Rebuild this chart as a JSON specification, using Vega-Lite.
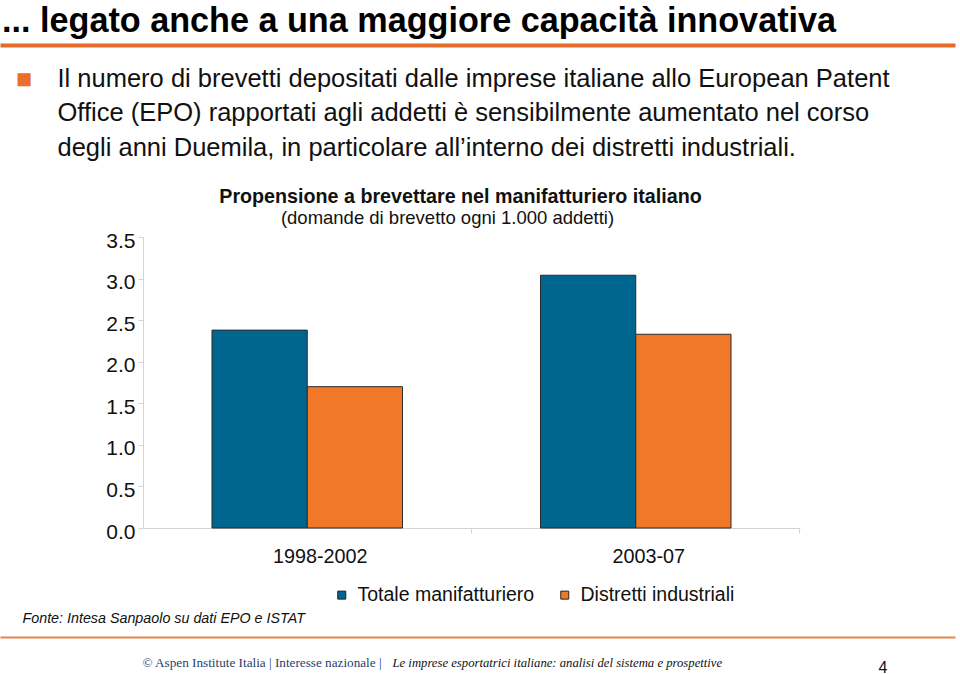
{
  "$schema": "https://vega.github.io/schema/vega-lite/v6.json",
  "width": 657,
  "height": 291,
  "autosize": {"type": "none"},
  "padding": {"left": 143, "top": 237, "right": 160, "bottom": 146},
  "background": "white",
  "title": {
    "text": "... legato anche a una maggiore capacità innovativa",
    "anchor": "start",
    "frame": "group",
    "dx": -141,
    "offset": 6,
    "fontSize": 34.2,
    "fontWeight": "bold",
    "font": "Liberation Sans",
    "color": "#000000"
  },
  "data": {
    "values": [
      {"periodo": "1998-2002", "serie": "Totale manifatturiero", "valore": 2.38},
      {"periodo": "1998-2002", "serie": "Distretti industriali", "valore": 1.70},
      {"periodo": "2003-07", "serie": "Totale manifatturiero", "valore": 3.04},
      {"periodo": "2003-07", "serie": "Distretti industriali", "valore": 2.33}
    ]
  },
  "resolve": {
    "scale": {"x": "independent", "y": "independent"},
    "axis": {"x": "independent", "y": "independent"}
  },
  "layer": [
    {
      "mark": {"type": "bar", "stroke": "#2b2b2b", "strokeWidth": 1},
      "encoding": {
        "x": {
          "field": "periodo",
          "type": "nominal",
          "scale": {"paddingInner": 0.42, "paddingOuter": 0.21},
          "axis": {
            "orient": "bottom",
            "labelAngle": 0,
            "labelFontSize": 19.8,
            "labelColor": "#111111",
            "labelPadding": 13,
            "labelOffset": 13,
            "domainColor": "#d4d4d4",
            "tickColor": "#d4d4d4",
            "tickSize": 5,
            "bandPosition": 1.362,
            "title": "Fonte: Intesa Sanpaolo su dati EPO e ISTAT",
            "titleFontStyle": "italic",
            "titleFontWeight": "normal",
            "titleFontSize": 14.3,
            "titleColor": "#111111",
            "titleAngle": 0,
            "titleAlign": "left",
            "titleBaseline": "alphabetic",
            "titleX": -121,
            "titleY": 94
          }
        },
        "xOffset": {
          "field": "serie",
          "type": "nominal",
          "sort": ["Totale manifatturiero", "Distretti industriali"],
          "scale": {"paddingInner": 0, "paddingOuter": 0}
        },
        "y": {
          "field": "valore",
          "type": "quantitative",
          "scale": {"domain": [0, 3.5], "nice": false},
          "axis": {
            "orient": "left",
            "values": [0, 0.5, 1, 1.5, 2, 2.5, 3, 3.5],
            "format": ".1f",
            "grid": false,
            "labelFontSize": 21,
            "labelColor": "#111111",
            "labelPadding": 3,
            "labelOffset": 4,
            "domainColor": "#d4d4d4",
            "tickColor": "#d4d4d4",
            "tickSize": 5,
            "title": "(domande di brevetto ogni 1.000 addetti)",
            "titleFontWeight": "normal",
            "titleFontSize": 18.5,
            "titleColor": "#111111",
            "titleAngle": 0,
            "titleAlign": "center",
            "titleBaseline": "alphabetic",
            "titleX": 304,
            "titleY": -14
          }
        },
        "color": {
          "field": "serie",
          "type": "nominal",
          "sort": ["Totale manifatturiero", "Distretti industriali"],
          "scale": {
            "domain": ["Totale manifatturiero", "Distretti industriali"],
            "range": ["#00668F", "#F07828"]
          },
          "legend": {
            "orient": "none",
            "direction": "horizontal",
            "legendX": 189,
            "legendY": 348,
            "title": null,
            "padding": 0,
            "symbolType": "square",
            "symbolSize": 64,
            "symbolStrokeColor": "#222222",
            "symbolStrokeWidth": 1,
            "labelFontSize": 19.5,
            "labelColor": "#111111",
            "labelLimit": 400,
            "labelOffset": 6,
            "columnPadding": 20
          }
        }
      }
    },
    {
      "mark": {"type": "point", "opacity": 0},
      "encoding": {
        "x": {
          "field": "valore",
          "type": "quantitative",
          "scale": {"range": [-143, 812]},
          "axis": {
            "orient": "top",
            "offset": 192,
            "labels": false,
            "ticks": false,
            "grid": false,
            "domain": true,
            "domainColor": "#E46C2A",
            "domainWidth": 4,
            "title": [
              "Il numero di brevetti depositati dalle imprese italiane allo European Patent",
              "Office (EPO) rapportati agli addetti è sensibilmente aumentato nel corso",
              "degli anni Duemila, in particolare all’interno dei distretti industriali."
            ],
            "titleFontWeight": "normal",
            "titleFontSize": 25.5,
            "titleLineHeight": 34.5,
            "titleColor": "#111111",
            "titleAngle": 0,
            "titleAlign": "left",
            "titleBaseline": "alphabetic",
            "titleX": -86,
            "titleY": 41
          }
        },
        "y": {
          "field": "valore",
          "type": "quantitative",
          "axis": {
            "orient": "right",
            "labels": false,
            "ticks": false,
            "grid": false,
            "domain": false,
            "title": "Propensione a brevettare nel manifatturiero italiano",
            "titleFontWeight": "bold",
            "titleFontSize": 19.7,
            "titleColor": "#111111",
            "titleAngle": 0,
            "titleAlign": "center",
            "titleBaseline": "alphabetic",
            "titleX": -340,
            "titleY": -35
          }
        }
      }
    },
    {
      "mark": {"type": "point", "opacity": 0},
      "encoding": {
        "x": {
          "field": "valore",
          "type": "quantitative",
          "scale": {"range": [-143, 812]},
          "axis": {
            "orient": "bottom",
            "offset": 109,
            "labels": false,
            "ticks": false,
            "grid": false,
            "domain": true,
            "domainColor": "#E8864A",
            "domainWidth": 2,
            "title": "© Aspen Institute Italia | Interesse nazionale |",
            "titleFont": "Liberation Serif",
            "titleFontWeight": "normal",
            "titleFontSize": 13.2,
            "titleColor": "#1F3F6E",
            "titleAngle": 0,
            "titleAlign": "left",
            "titleBaseline": "alphabetic",
            "titleX": -1,
            "titleY": 29
          }
        },
        "y": {
          "field": "valore",
          "type": "quantitative",
          "axis": {
            "orient": "left",
            "labels": false,
            "ticks": false,
            "grid": false,
            "domain": false,
            "title": "Le imprese esportatrici italiane: analisi del sistema e prospettive",
            "titleFont": "Liberation Serif",
            "titleFontStyle": "italic",
            "titleFontWeight": "normal",
            "titleFontSize": 12.7,
            "titleColor": "#111111",
            "titleAngle": 0,
            "titleAlign": "left",
            "titleBaseline": "alphabetic",
            "titleX": 249,
            "titleY": 429
          }
        }
      }
    },
    {
      "mark": {"type": "point", "opacity": 0},
      "encoding": {
        "x": {
          "field": "valore",
          "type": "quantitative",
          "axis": {
            "orient": "bottom",
            "labels": false,
            "ticks": false,
            "grid": false,
            "domain": false,
            "title": "4",
            "titleFontWeight": "normal",
            "titleFontSize": 16,
            "titleColor": "#111111",
            "titleAngle": 0,
            "titleAlign": "left",
            "titleBaseline": "alphabetic",
            "titleX": 735,
            "titleY": 144
          }
        },
        "y": {
          "field": "valore",
          "type": "quantitative",
          "axis": {
            "orient": "left",
            "labels": false,
            "ticks": false,
            "grid": false,
            "domain": false,
            "title": "■",
            "titleFontWeight": "normal",
            "titleFontSize": 27,
            "titleColor": "#E8702A",
            "titleAngle": 0,
            "titleAlign": "center",
            "titleBaseline": "middle",
            "titleX": -119.5,
            "titleY": -158
          }
        }
      }
    }
  ],
  "config": {
    "font": "Liberation Sans",
    "view": {"stroke": null}
  }
}
